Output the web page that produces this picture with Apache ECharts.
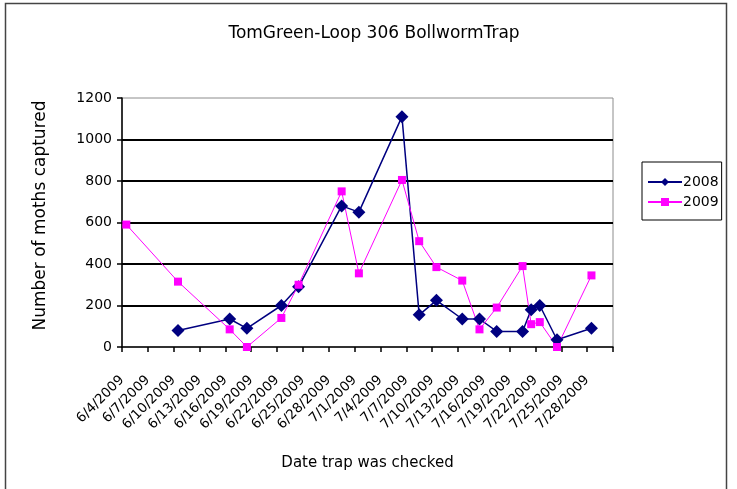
<!DOCTYPE html>
<html>
<head>
<meta charset="utf-8">
<script src="https://cdn.jsdelivr.net/npm/echarts@6/dist/echarts.min.js"></script>
<style>
  html, body { margin: 0; padding: 0; background: #fff; }
  #chart { width: 737px; height: 489px; }
</style>
</head>
<body>
<div id="chart"></div>
<script>
// Trap check dates (2009 season) and moth counts for both years
const checkDates = ['6/4', '6/10', '6/16', '6/18', '6/22', '6/24', '6/29', '7/1', '7/6', '7/8',
                    '7/10', '7/13', '7/15', '7/17', '7/20', '7/21', '7/22', '7/24', '7/28'];
const moths2008 = [null, 80, 135, 90, 200, 290, 680, 650, 1110, 155,
                   225, 135, 135, 75, 75, 180, 200, 35, 90];
const moths2009 = [590, 315, 85, 0, 140, 300, 750, 355, 805, 510,
                   385, 320, 85, 190, 390, 110, 120, 0, 345];
const dateTickLabels = ['6/4/2009', '6/7/2009', '6/10/2009', '6/13/2009', '6/16/2009', '6/19/2009',
                        '6/22/2009', '6/25/2009', '6/28/2009', '7/1/2009', '7/4/2009', '7/7/2009',
                        '7/10/2009', '7/13/2009', '7/16/2009', '7/19/2009', '7/22/2009', '7/25/2009',
                        '7/28/2009'];

const DAY_MS = 86400000;
const seasonStart = Date.UTC(2009, 5, 4);
const axisDays = 57;      // 6/4 .. 7/31
const tickStep = 3;       // one tick every three days

function dayOffset(md) {
  const [m, d] = md.split('/').map(Number);
  return (Date.UTC(2009, m - 1, d) - seasonStart) / DAY_MS;
}
// each date owns a one-day slot on the axis; the marker sits in the middle of it
const toPoints = vals => checkDates.map((md, i) => [dayOffset(md) + 0.5, vals[i]]);

const FONT = '"DejaVu Sans", Verdana, sans-serif';

const chart = echarts.init(document.getElementById('chart'), null, { renderer: 'canvas' });
chart.setOption({
  animation: false,
  backgroundColor: '#fff',
  title: {
    text: 'TomGreen-Loop 306 BollwormTrap',
    left: 369, top: 20, textAlign: 'center',
    textStyle: { fontFamily: FONT, fontSize: 17, fontWeight: 'normal', color: '#000' }
  },
  legend: {
    orient: 'vertical',
    left: 642, top: 162,
    padding: [13, 3, 11, 5],
    itemGap: 6,
    itemWidth: 34, itemHeight: 10,
    borderColor: '#000', borderWidth: 1,
    textStyle: { fontFamily: FONT, fontSize: 14, color: '#000', padding: [0, 0, 0, -4] },
    data: ['2008', '2009']
  },
  grid: {
    left: 122, top: 98, width: 491, height: 249,
    show: true, borderColor: '#8c8c8c', borderWidth: 1, backgroundColor: 'transparent'
  },
  xAxis: {
    type: 'value',
    min: 0, max: axisDays, interval: tickStep,
    name: 'Date trap was checked',
    nameLocation: 'middle', nameGap: 109,
    nameTextStyle: { fontFamily: FONT, fontSize: 15, color: '#000' },
    axisLine: { lineStyle: { color: '#000', width: 1.5 } },
    axisTick: { show: true, length: 5, lineStyle: { color: '#000', width: 1.5 } },
    axisLabel: {
      rotate: 45, margin: 31,
      fontFamily: FONT, fontSize: 13.5, color: '#000',
      showMaxLabel: true,
      formatter: v => dateTickLabels[Math.round(v / tickStep)] || ''
    },
    splitLine: { show: false }
  },
  yAxis: {
    type: 'value',
    min: 0, max: 1200, interval: 200,
    name: 'Number of moths captured',
    nameLocation: 'middle', nameGap: 73, nameRotate: 90,
    nameTextStyle: { fontFamily: FONT, fontSize: 17, color: '#000', padding: [0, 0, 0, 14] },
    axisLine: { show: true, lineStyle: { color: '#000', width: 1.5 } },
    axisTick: { show: true, length: 5, lineStyle: { color: '#000', width: 1.5 } },
    axisLabel: {
      margin: 10, fontFamily: FONT, fontSize: 14, color: '#000',
      formatter: v => String(v)
    },
    splitLine: { show: true, showMinLine: false, showMaxLine: false, lineStyle: { color: '#000', width: 2 } }
  },
  series: [
    {
      name: '2008', type: 'line',
      data: toPoints(moths2008),
      symbol: 'diamond', symbolSize: 13,
      itemStyle: { color: '#000080' },
      lineStyle: { color: '#000080', width: 1.5 },
      connectNulls: false
    },
    {
      name: '2009', type: 'line',
      data: toPoints(moths2009),
      symbol: 'rect', symbolSize: 8,
      itemStyle: { color: '#ff00ff' },
      lineStyle: { color: '#ff00ff', width: 1 }
    }
  ],
  graphic: [
    {
      type: 'rect', silent: true, z: -1,
      shape: { x: 5.5, y: 3.5, width: 721, height: 500 },
      style: { fill: 'none', stroke: '#444', lineWidth: 1.5 }
    }
  ]
});
</script>
</body>
</html>
